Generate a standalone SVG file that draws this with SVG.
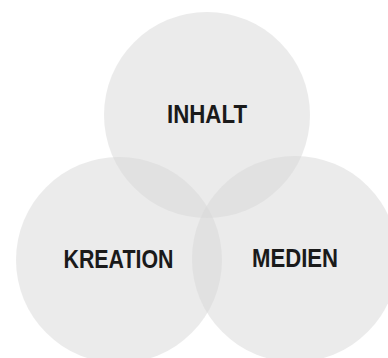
<svg xmlns="http://www.w3.org/2000/svg" width="388" height="358" viewBox="0 0 388 358">
<style>
.c{fill:#d8d8d8;fill-opacity:0.5}
.t{font-family:"Liberation Sans",Arial,sans-serif;font-weight:bold;font-size:25px;fill:#1a1a1a;text-anchor:middle}
</style>
<rect width="388" height="358" fill="#fff"/>
<g id="connectors"></g>
<g id="inhalt"><circle class="c" cx="207" cy="115" r="103"/><text class="t" x="207" y="123" textLength="80" lengthAdjust="spacingAndGlyphs">INHALT</text></g>
<g id="kreation"><circle class="c" cx="119" cy="260" r="103"/><text class="t" x="118.5" y="268" textLength="110" lengthAdjust="spacingAndGlyphs">KREATION</text></g>
<g id="medien"><circle class="c" cx="295" cy="259" r="103"/><text class="t" x="295" y="266.5" textLength="86" lengthAdjust="spacingAndGlyphs">MEDIEN</text></g>
</svg>
